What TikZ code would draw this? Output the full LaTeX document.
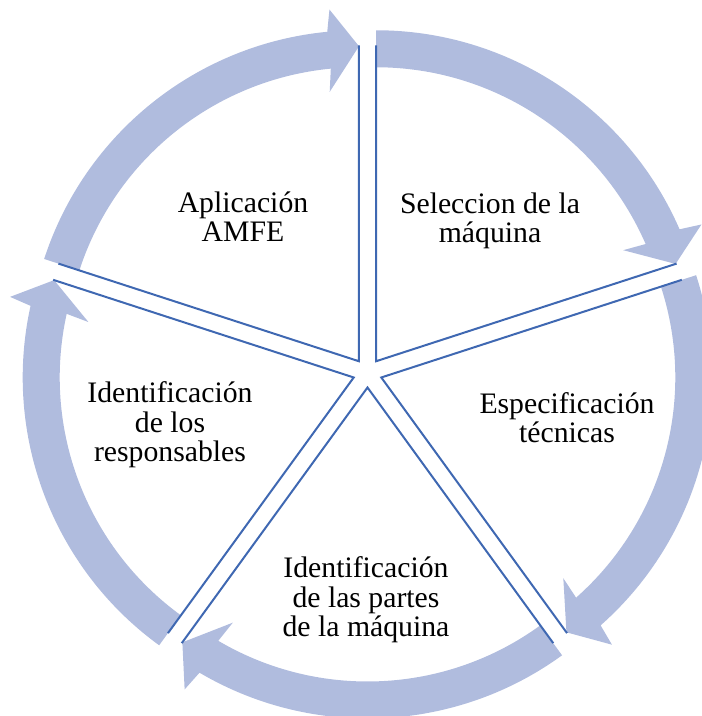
\documentclass[tikz,border=0pt]{standalone}
\usepackage{fontspec}
\setmainfont{Liberation Serif}
\definecolor{arrowblue}{RGB}{176,188,222}
\definecolor{lineblue}{RGB}{63,104,178}
\begin{document}
\begin{tikzpicture}[x=0.75pt,y=0.75pt,
    cyclearrow/.style={fill=arrowblue},
    segline/.style={draw=lineblue,line width=1.5pt},
    stage/.style={align=center,inner sep=0pt,font=\fontsize{22.3pt}{22pt}\selectfont}]
  \useasboundingbox (-367.5,-343) rectangle (333.5,373);
  % top right
  \begin{scope}[shift={(54:14.5)}]
    \fill[cyclearrow] (90:294) arc[start angle=90,end angle=23.5,radius=294]
      -- (24.2:271) -- (18:315) -- (22.8:353) -- (23.5:331)
      arc[start angle=23.5,end angle=90,radius=331] -- cycle;
  \end{scope}
  % lower right
  \begin{scope}[shift={(-18:14.5)}]
    \fill[cyclearrow] (18:294) arc[start angle=18,end angle=-48.5,radius=294]
      -- (-47.8:271) -- (-54:315) -- (-49.2:353) -- (-48.5:331)
      arc[start angle=-48.5,end angle=18,radius=331] -- cycle;
  \end{scope}
  % bottom
  \begin{scope}[shift={(-90:14.5)}]
    \fill[cyclearrow] (-54:294) arc[start angle=-54,end angle=-120.5,radius=294]
      -- (-119.8:271) -- (-126:315) -- (-121.2:353) -- (-120.5:331)
      arc[start angle=-120.5,end angle=-54,radius=331] -- cycle;
  \end{scope}
  % lower left
  \begin{scope}[shift={(-162:14.5)}]
    \fill[cyclearrow] (-126:294) arc[start angle=-126,end angle=-192.5,radius=294]
      -- (-191.8:271) -- (-198:315) -- (-193.2:353) -- (-192.5:331)
      arc[start angle=-192.5,end angle=-126,radius=331] -- cycle;
  \end{scope}
  % top left
  \begin{scope}[shift={(126:14.5)}]
    \fill[cyclearrow] (162:294) arc[start angle=162,end angle=95.5,radius=294]
      -- (96.2:271) -- (90:315) -- (94.8:353) -- (95.5:331)
      arc[start angle=95.5,end angle=162,radius=331] -- cycle;
  \end{scope}
  % segments
  \draw[segline,shift={(54:14.5)}] (90:316) -- (0,0) -- (18:316);
  \draw[segline,shift={(-18:14.5)}] (18:316) -- (0,0) -- (-54:316);
  \draw[segline,shift={(-90:14.5)}] (-54:316) -- (0,0) -- (-126:316);
  \draw[segline,shift={(-162:14.5)}] (-126:316) -- (0,0) -- (-198:316);
  \draw[segline,shift={(126:14.5)}] (162:316) -- (0,0) -- (90:316);
  % labels
  \node[stage] (seleccion) at (122.5,152) {Seleccion de la\\máquina};
  \node[stage] (especif) at (199.5,-45) {Especificación\\técnicas};
  \node[stage] (partes) at (-1.5,-227) {Identificación\\de las partes\\de la máquina};
  \node[stage] (respons) at (-197.5,-52) {Identificación\\de los\\responsables};
  \node[stage] (amfe) at (-124.5,156) {Aplicación\\AMFE};
\end{tikzpicture}
\end{document}
